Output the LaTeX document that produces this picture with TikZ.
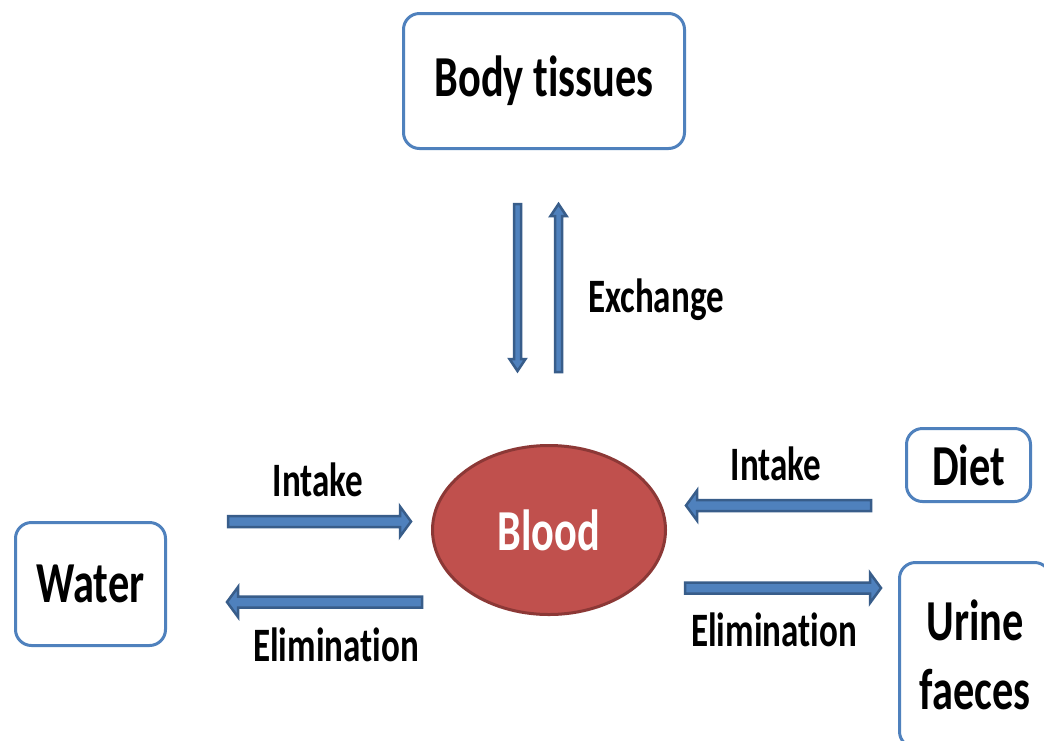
\documentclass[tikz,border=0pt]{standalone}
\usepackage{fontspec}
\setmainfont{Carlito}[Ligatures=NoCommon]
\usetikzlibrary{calc,shapes.geometric}
\definecolor{boxblue}{HTML}{4F81BD}
\definecolor{arrdark}{HTML}{385D8A}
\definecolor{bloodred}{HTML}{C0504D}
\definecolor{bloodedge}{HTML}{8C3836}
\newcommand\sq[1]{\scalebox{0.73}[1]{#1}}
% #1 start, #2 end, #3 shaft half width, #4 head half width, #5 head length
\newcommand\blockarrow[5]{%
  \path ($(#2)!#5!(#1)$) coordinate (bah);
  \draw[barrow] ($(#1)!#3!90:(#2)$) -- ($(bah)!#3!90:(#2)$) -- ($(bah)!#4!90:(#2)$) -- (#2)
    -- ($(bah)!#4!-90:(#2)$) -- ($(bah)!#3!-90:(#2)$) -- ($(#1)!#3!-90:(#2)$) -- cycle;}
\tikzset{
  box/.style={draw=boxblue, line width=3pt, rounded corners=16pt, fill=white, inner sep=0pt,
    font=\fontsize{58}{69}\selectfont\bfseries, align=center},
  lab/.style={font=\fontsize{48}{50}\selectfont\bfseries, inner sep=0pt},
  barrow/.style={draw=arrdark, fill=boxblue, line width=2.5pt, line join=miter}
}
\begin{document}
\begin{tikzpicture}[x=1pt,y=-1pt]
\clip (0,0) rectangle (1044,740);
\fill[white] (0,0) rectangle (1044,740);

\node[box, minimum width=281pt, minimum height=135pt] (body) at (544,81) {\sq{Body tissues}};
\node[box, minimum width=150pt, minimum height=123pt] (water) at (90.5,584) {\sq{Water}};
\node[box, minimum width=124pt, minimum height=73pt] (diet) at (968.5,465) {\sq{Diet}};
\node[box, minimum width=151pt, minimum height=185pt] (urine) at (975,655) {\sq{Urine}\\\sq{faeces}};
\node[ellipse, draw=bloodedge, fill=bloodred, line width=3pt, minimum width=233pt, minimum height=169pt,
  inner sep=0pt, text=white, font=\fontsize{58}{60}\selectfont\bfseries] (blood) at (549,530) {\sq{Blood}};

\node[lab] (exch) at (656,300) {\sq{Exchange}};
\node[lab] (intL) at (318,480) {\sq{Intake}};
\node[lab] (elimL) at (336,645) {\sq{Elimination}};
\node[lab] (intR) at (776,464) {\sq{Intake}};
\node[lab] (elimR) at (774,630) {\sq{Elimination}};

\coordinate (dnS) at (517.5,204);
\coordinate (dnE) at (517.5,371);
\coordinate (upS) at (558.5,372);
\coordinate (upE) at (558.5,204);
\coordinate (ilS) at (228,521.5);
\coordinate (ilE) at (411,521.5);
\coordinate (elS) at (422,602);
\coordinate (elE) at (227,602);
\coordinate (irS) at (871,505.5);
\coordinate (irE) at (686,505.5);
\coordinate (erS) at (685,588);
\coordinate (erE) at (881,588);

\blockarrow{dnS}{dnE}{3.5pt}{8pt}{12pt}
\blockarrow{upS}{upE}{3.5pt}{8pt}{12pt}
\blockarrow{ilS}{ilE}{5.5pt}{15pt}{11pt}
\blockarrow{elS}{elE}{5.5pt}{15pt}{11pt}
\blockarrow{irS}{irE}{5.5pt}{15pt}{11pt}
\blockarrow{erS}{erE}{5.5pt}{15pt}{11pt}
\end{tikzpicture}
\end{document}
